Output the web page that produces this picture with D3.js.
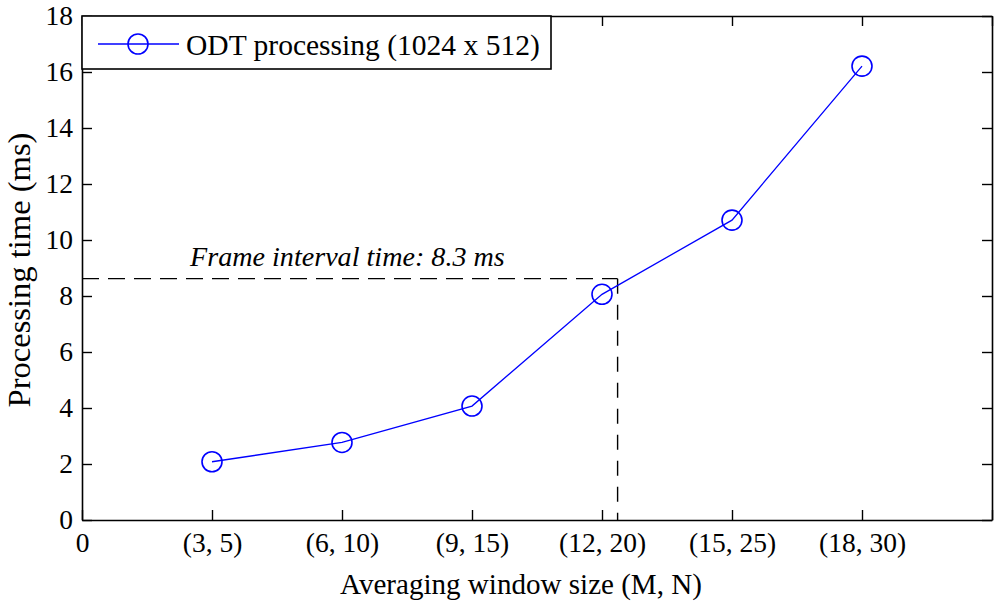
<!DOCTYPE html>
<html>
<head>
<meta charset="utf-8">
<script src="https://cdn.jsdelivr.net/npm/d3@7"></script>
<style>
  body { margin: 0; background: #fff; }
</style>
</head>
<body>
<svg id="chart"></svg>
<script>
// Chart data
const categories = ["(3, 5)", "(6, 10)", "(9, 15)", "(12, 20)", "(15, 25)", "(18, 30)"];
const times = [2.08, 2.77, 4.07, 8.06, 10.71, 16.21];
const yTicks = [0, 2, 4, 6, 8, 10, 12, 14, 16, 18];
const seriesName = "ODT processing (1024 x 512)";
const frameLabel = "Frame interval time: 8.3 ms";
// where the dashed guide lines meet (x in category units, y in ms)
const guideX = 4.12;
const guideY = 8.62;

const width = 1000;
const height = 607;
const pLeft = 82, pRight = 992, pTop = 16, pBottom = 520;
const serif = "'Liberation Serif', 'DejaVu Serif', serif";

const svg = d3.select("#chart")
  .attr("width", width)
  .attr("height", height)
  .style("font-family", serif);

const x = d3.scaleLinear().domain([0, 7]).range([pLeft, pRight]);
const y = d3.scaleLinear().domain([0, 18]).range([pBottom, pTop]);

const xTickVals = d3.range(0, 8);
const xLabel = i => i === 0 ? "0" : (categories[i - 1] || "");

// Bottom axis with inward ticks
svg.append("g")
  .attr("transform", `translate(0,${pBottom})`)
  .call(d3.axisBottom(x).tickValues(xTickVals).tickFormat(xLabel)
    .tickSizeInner(-10).tickSizeOuter(0).tickPadding(12));

// Left axis
svg.append("g")
  .attr("transform", `translate(${pLeft},0)`)
  .call(d3.axisLeft(y).tickValues(yTicks).tickFormat(d3.format("d"))
    .tickSizeInner(-10).tickSizeOuter(0).tickPadding(9));

// Top and right mirrored ticks, no labels
svg.append("g")
  .attr("transform", `translate(0,${pTop})`)
  .call(d3.axisTop(x).tickValues(xTickVals).tickFormat("")
    .tickSizeInner(-10).tickSizeOuter(0));

svg.append("g")
  .attr("transform", `translate(${pRight},0)`)
  .call(d3.axisRight(y).tickValues(yTicks).tickFormat("")
    .tickSizeInner(-10).tickSizeOuter(0));

svg.selectAll("g").attr("font-family", null);
svg.selectAll(".domain").attr("stroke", "#000").attr("stroke-width", 1.6);
svg.selectAll(".tick line").attr("stroke", "#000").attr("stroke-width", 1.4);
svg.selectAll(".tick text")
  .style("font-family", serif)
  .style("font-size", "27.5px")
  .attr("fill", "#000");

// Dashed guide lines
svg.append("line")
  .attr("x1", x(0)).attr("x2", x(guideX))
  .attr("y1", y(guideY)).attr("y2", y(guideY))
  .attr("stroke", "#000").attr("stroke-width", 1.4)
  .attr("stroke-dasharray", "17,9");

svg.append("line")
  .attr("x1", x(guideX)).attr("x2", x(guideX))
  .attr("y1", y(guideY)).attr("y2", y(0))
  .attr("stroke", "#000").attr("stroke-width", 1.4)
  .attr("stroke-dasharray", "15,11");

// Text helper: sizes a label so it spans the same length as in the figure
function fitText(sel, size, target) {
  sel.style("font-family", serif).style("font-size", size + "px");
  const len = sel.node().getComputedTextLength();
  if (len > 0) sel.style("font-size", (size * target / len) + "px");
  return sel;
}

fitText(svg.append("text")
  .attr("x", 190)
  .attr("y", y(guideY) - 13)
  .style("font-style", "italic")
  .text(frameLabel), 28, 315);

// Series line and circle markers
const pts = times.map((v, i) => ({ x: i + 1, y: v }));

svg.append("path")
  .datum(pts)
  .attr("fill", "none")
  .attr("stroke", "#0000ff")
  .attr("stroke-width", 1.3)
  .attr("d", d3.line().x(d => x(d.x)).y(d => y(d.y)));

svg.selectAll(".pt")
  .data(pts)
  .enter()
  .append("circle")
  .attr("class", "pt")
  .attr("cx", d => x(d.x))
  .attr("cy", d => y(d.y))
  .attr("r", 10)
  .attr("fill", "none")
  .attr("stroke", "#0000ff")
  .attr("stroke-width", 1.6);

// Legend box in the top-left corner
const lg = svg.append("g");
lg.append("rect")
  .attr("x", pLeft).attr("y", pTop)
  .attr("width", 469).attr("height", 53)
  .attr("fill", "#fff")
  .attr("stroke", "#000").attr("stroke-width", 1.6);
lg.append("line")
  .attr("x1", 98).attr("x2", 179)
  .attr("y1", 44).attr("y2", 44)
  .attr("stroke", "#0000ff").attr("stroke-width", 1.3);
lg.append("circle")
  .attr("cx", 138).attr("cy", 44).attr("r", 10)
  .attr("fill", "none")
  .attr("stroke", "#0000ff").attr("stroke-width", 1.6);
fitText(lg.append("text")
  .attr("x", 186).attr("y", 55)
  .text(seriesName), 29, 354);

// Axis titles
fitText(svg.append("text")
  .attr("x", 521)
  .attr("y", 594)
  .attr("text-anchor", "middle")
  .text("Averaging window size (M, N)"), 29, 362);

fitText(svg.append("text")
  .attr("transform", "translate(30,270) rotate(-90)")
  .attr("text-anchor", "middle")
  .text("Processing time (ms)"), 29, 275);
</script>
</body>
</html>
